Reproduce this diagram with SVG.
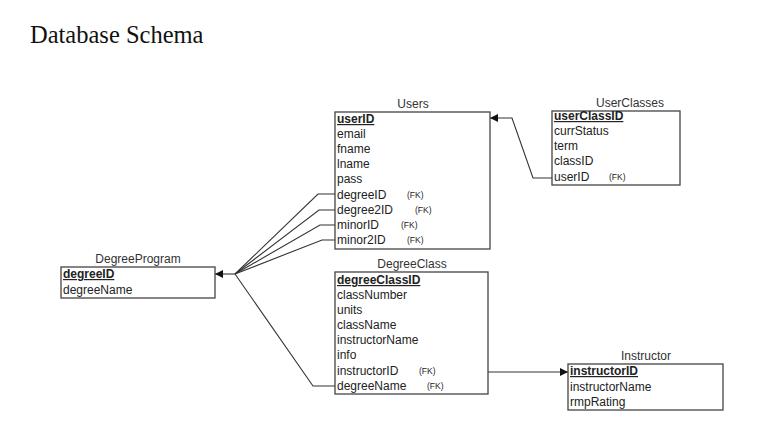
<svg xmlns="http://www.w3.org/2000/svg" width="764" height="436" viewBox="0 0 764 436">
<style>
.box{fill:#fff;stroke:#444;stroke-width:1.3}
.t{font-family:"Liberation Sans",Arial,sans-serif;font-size:12px;fill:#222}
.pk{font-weight:bold;text-decoration:underline}
.fk{font-family:"Liberation Sans",Arial,sans-serif;font-size:8.5px;fill:#222}
.lbl{font-family:"Liberation Sans",Arial,sans-serif;font-size:12px;fill:#333;text-anchor:middle}
.c{fill:none;stroke:#333;stroke-width:1.1}
</style>
<defs>
<marker id="ah" viewBox="0 0 10 10" refX="10" refY="5" markerWidth="8" markerHeight="8" markerUnits="userSpaceOnUse" orient="auto">
<path d="M0,0 L10,5 L0,10 Z" fill="#111"/>
</marker>
</defs>
<rect width="764" height="436" fill="#fff"/>
<text x="30" y="43" font-family="'Liberation Serif','Times New Roman',serif" font-size="24.5" fill="#111">Database Schema</text>

<g id="connectors">
<polyline class="c" points="552,178 533,178 512,118 490,118" marker-end="url(#ah)"/>
<polyline class="c" points="335,194 318,194 235,274"/>
<polyline class="c" points="335,210 319,210 235,274"/>
<polyline class="c" points="335,225 320,225 235,274"/>
<polyline class="c" points="335,240 322,240 235,274"/>
<polyline class="c" points="335,386 313,386 235,274"/>
<line class="c" x1="235" y1="274" x2="215" y2="274" marker-end="url(#ah)"/>
<line class="c" x1="488" y1="372" x2="568" y2="372" marker-end="url(#ah)"/>
</g>

<g id="Users">
<text class="lbl" x="413" y="108">Users</text>
<rect class="box" x="335" y="112" width="155" height="137"/>
<text class="t pk" x="337" y="123">userID</text>
<text class="t" x="337" y="138">email</text>
<text class="t" x="337" y="153">fname</text>
<text class="t" x="337" y="168">lname</text>
<text class="t" x="337" y="183">pass</text>
<text class="t" x="337" y="199">degreeID</text>
<text class="t" x="337" y="214">degree2ID</text>
<text class="t" x="337" y="229">minorID</text>
<text class="t" x="337" y="244">minor2ID</text>
<text class="fk" x="407" y="198">(FK)</text>
<text class="fk" x="415" y="213">(FK)</text>
<text class="fk" x="401" y="228">(FK)</text>
<text class="fk" x="407" y="243">(FK)</text>
</g>

<g id="UserClasses">
<text class="lbl" x="630" y="107">UserClasses</text>
<rect class="box" x="552" y="111" width="128" height="74"/>
<text class="t pk" x="554" y="120">userClassID</text>
<text class="t" x="554" y="135">currStatus</text>
<text class="t" x="554" y="150">term</text>
<text class="t" x="554" y="165">classID</text>
<text class="t" x="554" y="181">userID</text>
<text class="fk" x="609" y="180">(FK)</text>
</g>

<g id="DegreeProgram">
<text class="lbl" x="138" y="263">DegreeProgram</text>
<rect class="box" x="61" y="267" width="154" height="31"/>
<text class="t pk" x="63" y="278">degreeID</text>
<text class="t" x="63" y="294">degreeName</text>
</g>

<g id="DegreeClass">
<text class="lbl" x="412" y="268">DegreeClass</text>
<rect class="box" x="335" y="272" width="153" height="122"/>
<text class="t pk" x="337" y="284">degreeClassID</text>
<text class="t" x="337" y="299">classNumber</text>
<text class="t" x="337" y="314">units</text>
<text class="t" x="337" y="329">className</text>
<text class="t" x="337" y="344">instructorName</text>
<text class="t" x="337" y="359">info</text>
<text class="t" x="337" y="375">instructorID</text>
<text class="t" x="337" y="390">degreeName</text>
<text class="fk" x="419" y="374">(FK)</text>
<text class="fk" x="427" y="389">(FK)</text>
</g>

<g id="Instructor">
<text class="lbl" x="646" y="360">Instructor</text>
<rect class="box" x="568" y="364" width="155" height="46"/>
<text class="t pk" x="570" y="375">instructorID</text>
<text class="t" x="570" y="391">instructorName</text>
<text class="t" x="570" y="406">rmpRating</text>
</g>
</svg>
